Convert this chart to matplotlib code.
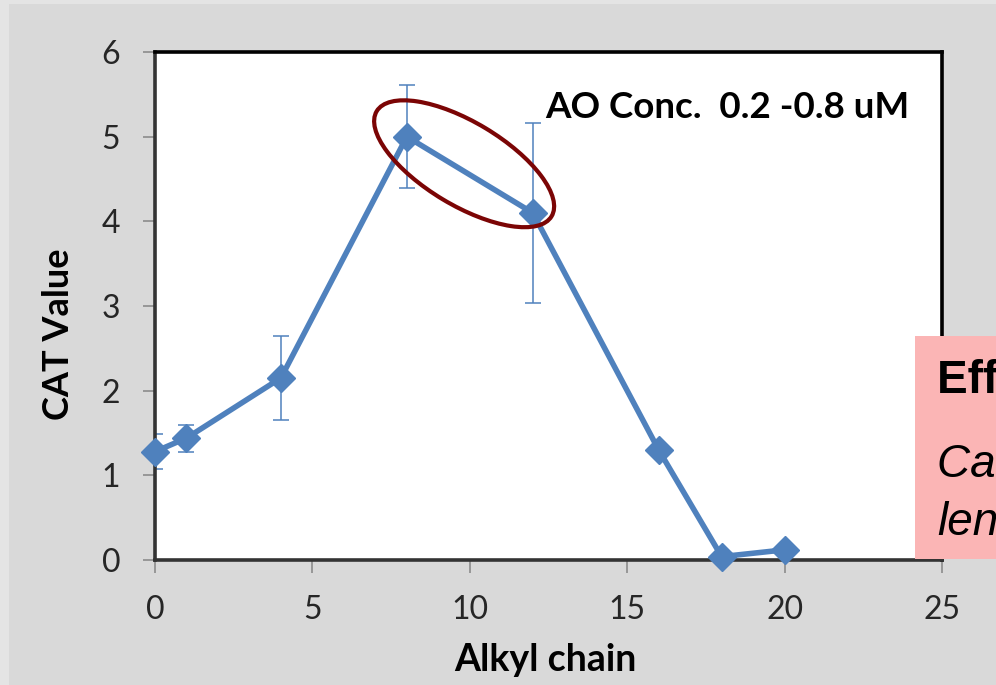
import matplotlib
matplotlib.use("Agg")
import matplotlib.pyplot as plt
import matplotlib.transforms as mtransforms
from matplotlib.patches import Ellipse, Rectangle

# Datos
alkyl_chain = [0, 1, 4, 8, 12, 16, 18, 20]
cat_value = [1.28, 1.44, 2.15, 5.0, 4.1, 1.30, 0.04, 0.12]
cat_error = [0.21, 0.16, 0.50, 0.61, 1.06, 0.0, 0.0, 0.0]
x_ticks = [0, 5, 10, 15, 20, 25]
y_ticks = [0, 1, 2, 3, 4, 5, 6]

blue = "#4F81BD"
plt.rcParams["font.family"] = ["Lato", "DejaVu Sans"]

fig = plt.figure(figsize=(9.96, 6.85), dpi=100, facecolor="#D9D9D9")
# franjas claras en el borde izquierdo y superior
fig.patches.append(Rectangle((0, 0), 9 / 996, 1, transform=fig.transFigure,
                             facecolor="#E4E4E4", edgecolor="none"))
fig.patches.append(Rectangle((0, 1 - 4 / 685), 1, 4 / 685, transform=fig.transFigure,
                             facecolor="#E4E4E4", edgecolor="none"))

ax = fig.add_axes([155 / 996, 125 / 685, 787 / 996, 508 / 685])
ax.set_facecolor("white")

ax.errorbar(alkyl_chain, cat_value, yerr=cat_error, fmt="none", ecolor=blue,
            elinewidth=1.1, capsize=6, capthick=1.1, zorder=2)
ax.plot(alkyl_chain, cat_value, color=blue, lw=4.0, marker="D", ms=14.5,
        zorder=3, clip_on=False)

ax.set_xlim(0, 25)
ax.set_ylim(0, 6)
ax.set_xticks(x_ticks)
ax.set_yticks(y_ticks)
ax.tick_params(axis="both", direction="out", length=9, width=1.2, color="#8C8C8C",
               labelsize=23, labelcolor="#262626")
ax.tick_params(axis="x", pad=16)
ax.tick_params(axis="y", pad=16)

for side in ["top", "right"]:
    ax.spines[side].set_color("black")
    ax.spines[side].set_linewidth(2.6)
for side in ["left", "bottom"]:
    ax.spines[side].set_color("#333333")
    ax.spines[side].set_linewidth(2.6)

ax.set_xlabel("Alkyl chain", fontsize=27, fontweight="bold")
ax.set_ylabel("CAT Value", fontsize=26, fontweight="bold")
ax.xaxis.set_label_coords(0.4956, -0.197)
ax.yaxis.set_label_coords(-0.123, 0.445)
ax.xaxis.label.set_va("center")
ax.yaxis.label.set_va("center")

ax.text(0.4956, 0.87, "AO Conc.  0.2 -0.8 uM", transform=ax.transAxes,
        fontsize=26.5, fontweight="bold", va="baseline", ha="left")

# elipse que resalta el máximo (en píxeles, centrada en un punto de datos)
ell_trans = mtransforms.Affine2D() + mtransforms.ScaledTranslation(9.82, 4.68, ax.transData)
ax.add_patch(Ellipse((0, 0), 204, 83, angle=-31, transform=ell_trans, fill=False,
                     edgecolor="#7B0505", lw=3.0, clip_on=False, zorder=4))

# recuadro rosa recortado en el borde derecho
fig.patches.append(Rectangle((915 / 996, 126 / 685), 81 / 996, 223 / 685,
                             transform=fig.transFigure, facecolor="#FBB5B5",
                             edgecolor="none", zorder=5))
fig.text(937 / 996, (685 - 393) / 685, "Effect of", fontsize=33, fontweight="bold",
         family="Liberation Sans", va="baseline", ha="left", zorder=6)
fig.text(937 / 996, (685 - 477) / 685, "Carbon chain", fontsize=33, style="italic",
         family="Liberation Sans", va="baseline", ha="left", zorder=6)
fig.text(937 / 996, (685 - 535) / 685, "length", fontsize=33, style="italic",
         family="Liberation Sans", va="baseline", ha="left", zorder=6)

fig.savefig("out.png", dpi=100, facecolor=fig.get_facecolor())
